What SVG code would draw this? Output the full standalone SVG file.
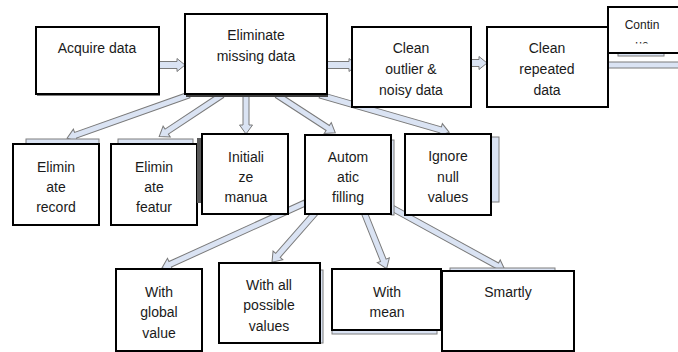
<svg xmlns="http://www.w3.org/2000/svg" width="678" height="352" viewBox="0 0 678 352">
<style>
.box{fill:#fff;stroke:#000;stroke-width:2}
.sh{fill:#dae3f3;stroke:#7f7f7f;stroke-width:1}
.dsh{fill:#595959;stroke:none}
.arr{fill:#dae3f3;stroke:#7a7a7a;stroke-width:1;stroke-linejoin:miter}
text{font-family:"Liberation Sans",Arial,sans-serif;font-size:14px;fill:#1a1a1a;text-anchor:middle}
</style>
<defs>
<clipPath id="cclip"><rect x="608" y="6" width="70" height="37.5"/></clipPath>
</defs>
<g id="connectors">
<path class="arr" transform="translate(159,65)" d="M0,-3.5 H18 V-6.5 L26,0 L18,6.5 V3.5 H0 Z"/>
<path class="arr" transform="translate(327,65)" d="M0,-3.5 H22 V-6.5 L30,0 L22,6.5 V3.5 H0 Z"/>
<path class="arr" transform="translate(471,63)" d="M0,-3.5 H8 V-6.5 L16,0 L8,6.5 V3.5 H0 Z"/>
<path class="arr" transform="translate(606,65)" d="M0,-3 H90 V3 H0 Z"/>
<path class="arr" transform="translate(189,95) rotate(160.44)" d="M0,-3 H120.4 V-6.5 L129.4,0 L120.4,6.5 V3 H0 Z"/>
<path class="arr" transform="translate(222,95) rotate(146.52)" d="M0,-3 H66.3 V-6.5 L75.3,0 L66.3,6.5 V3 H0 Z"/>
<path class="arr" transform="translate(246,95) rotate(90)" d="M0,-3 H30 V-6.5 L39,0 L30,6.5 V3 H0 Z"/>
<path class="arr" transform="translate(277,95) rotate(33)" d="M0,-3 H60.5 V-6.5 L69.5,0 L60.5,6.5 V3 H0 Z"/>
<path class="arr" transform="translate(320,95) rotate(16.12)" d="M0,-3 H125.5 V-6.5 L134.5,0 L125.5,6.5 V3 H0 Z"/>
<path class="arr" transform="translate(305,203) rotate(155.56)" d="M0,-3 H148.1 V-6.5 L157.1,0 L148.1,6.5 V3 H0 Z"/>
<path class="arr" transform="translate(316,212) rotate(131.27)" d="M0,-3 H57.7 V-6.5 L66.7,0 L57.7,6.5 V3 H0 Z"/>
<path class="arr" transform="translate(364,212) rotate(68.2)" d="M0,-3 H52 V-6.5 L61,0 L52,6.5 V3 H0 Z"/>
<path class="arr" transform="translate(392,208) rotate(28.75)" d="M0,-3 H119.9 V-6.5 L128.9,0 L119.9,6.5 V3 H0 Z"/>
</g>
<g id="acquire">
<rect x="37" y="29" width="123" height="67" fill="#7f7f7f"/>
<rect class="box" x="36" y="27" width="123" height="67"/>
<text x="97" y="53">Acquire data</text>
</g>
<g id="eliminate-missing">
<rect x="186" y="16" width="142" height="81" fill="#404040"/>
<rect class="box" x="185" y="14" width="142" height="80"/>
<text x="256" y="40">Eliminate</text>
<text x="256" y="61">missing data</text>
</g>
<g id="clean-outlier">
<rect class="box" x="352" y="27" width="119" height="80"/>
<text x="411" y="53">Clean</text>
<text x="411" y="74">outlier &amp;</text>
<text x="411" y="95">noisy data</text>
</g>
<g id="clean-repeated">
<rect class="box" x="487" y="27" width="121" height="80"/>
<text x="547" y="53">Clean</text>
<text x="547" y="74">repeated</text>
<text x="547" y="95">data</text>
</g>
<g id="continue">
<rect class="sh" x="618" y="52" width="46" height="4"/>
<rect class="box" x="608" y="7" width="80" height="46"/>
<text x="642" y="29" style="font-size:12px">Contin</text>
<text x="642" y="49" style="font-size:12px" clip-path="url(#cclip)">ue</text>
</g>
<g id="eliminate-record">
<rect class="sh" x="26" y="139" width="73" height="5"/>
<rect class="box" x="13" y="144" width="86" height="81"/>
<text x="56" y="172">Elimin</text>
<text x="56" y="192">ate</text>
<text x="56" y="212">record</text>
</g>
<g id="eliminate-feature">
<rect class="sh" x="118" y="139" width="75" height="5"/>
<rect class="box" x="111" y="144" width="86" height="81"/>
<text x="154" y="172">Elimin</text>
<text x="154" y="192">ate</text>
<text x="154" y="212">featur</text>
</g>
<g id="initialize-manual">
<rect class="dsh" x="197" y="138" width="6" height="65"/>
<rect class="box" x="202" y="134" width="86" height="80"/>
<text x="246" y="162">Initiali</text>
<text x="246" y="182">ze</text>
<text x="246" y="202">manua</text>
</g>
<g id="automatic-filling">
<rect class="sh" x="391" y="140" width="3" height="75"/>
<rect class="box" x="305" y="135" width="86" height="79"/>
<text x="348" y="162">Autom</text>
<text x="348" y="182">atic</text>
<text x="348" y="202">filling</text>
</g>
<g id="ignore-null">
<rect class="sh" x="491" y="137" width="8" height="65"/>
<rect class="box" x="405" y="134" width="86" height="81"/>
<text x="448" y="161">Ignore</text>
<text x="448" y="182">null</text>
<text x="448" y="202">values</text>
</g>
<g id="with-global">
<rect class="box" x="116" y="269" width="86" height="82"/>
<text x="159" y="297">With</text>
<text x="159" y="317">global</text>
<text x="159" y="338">value</text>
</g>
<g id="with-all">
<rect class="sh" x="320" y="270" width="3" height="73"/>
<rect class="box" x="219" y="263" width="101" height="80"/>
<text x="269" y="290">With all</text>
<text x="269" y="310">possible</text>
<text x="269" y="331">values</text>
</g>
<g id="with-mean">
<rect class="sh" x="332" y="330" width="105" height="4"/>
<rect class="box" x="332" y="269" width="109" height="61"/>
<text x="387" y="297">With</text>
<text x="387" y="317">mean</text>
</g>
<g id="smartly">
<rect class="sh" x="450" y="268" width="105" height="3"/>
<rect class="box" x="442" y="271" width="132" height="80"/>
<text x="508" y="297">Smartly</text>
</g>
</svg>
